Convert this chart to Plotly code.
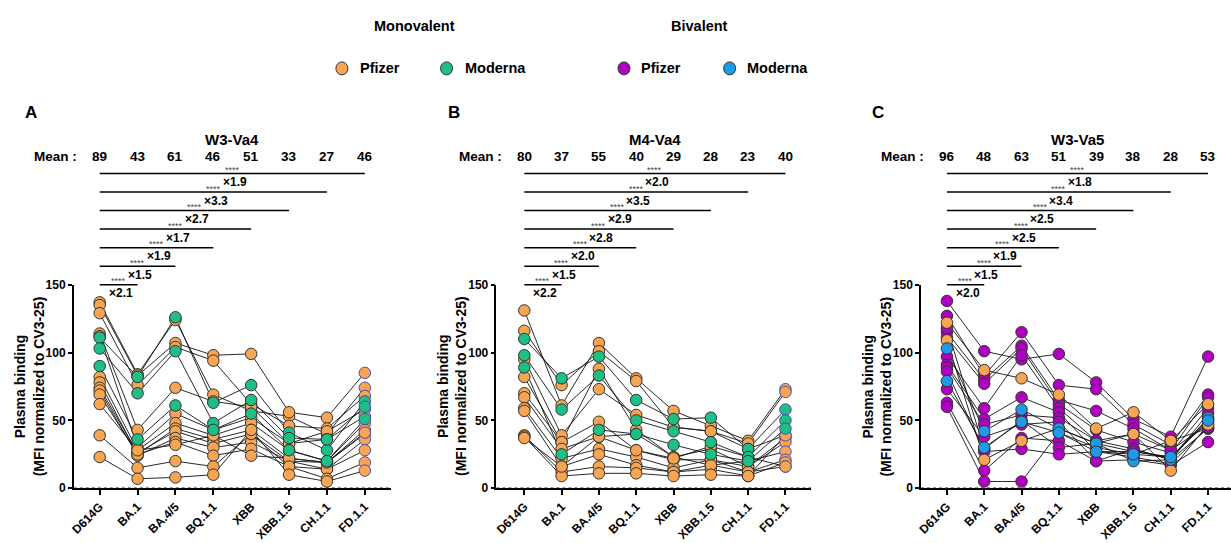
import plotly.graph_objects as go

W, H = 1231, 543

variants = ["D614G", "BA.1", "BA.4/5", "BQ.1.1", "XBB", "XBB.1.5", "CH.1.1", "FD.1.1"]

titles = ["W3-Va4", "M4-Va4", "W3-Va5"]
letters = ["A", "B", "C"]

means_A = [89, 43, 61, 46, 51, 33, 27, 46]
means_B = [80, 37, 55, 40, 29, 28, 23, 40]
means_C = [96, 48, 63, 51, 39, 38, 28, 53]

# fold change vs D614G, for BA.1 ... FD.1.1
folds_A = ["2.1", "1.5", "1.9", "1.7", "2.7", "3.3", "1.9"]
folds_B = ["2.2", "1.5", "2.0", "2.8", "2.9", "3.5", "2.0"]
folds_C = ["2.0", "1.5", "1.9", "2.5", "2.5", "3.4", "1.8"]
signif = ["****"] * 7

# per-donor binding values (D614G ... FD.1.1)
groups_A = ["mono_pfizer"] * 13 + ["mono_moderna"] * 3
values_A = [
    [137, 84, 124, 69, 57, 53, 40, 74],
    [135, 83, 107, 98, 99, 56, 52, 85],
    [129, 76, 104, 94, 62, 46, 44, 68],
    [114, 43, 74, 64, 60, 33, 42, 58],
    [112, 30, 55, 43, 52, 33, 36, 53],
    [82, 28, 48, 39, 48, 28, 20, 48],
    [78, 25, 44, 36, 43, 22, 19, 43],
    [74, 26, 42, 33, 40, 20, 19, 40],
    [72, 24, 37, 30, 34, 20, 14, 36],
    [69, 25, 34, 24, 29, 16, 14, 28],
    [62, 28, 32, 39, 24, 22, 19, 41],
    [39, 15, 20, 16, 40, 16, 7, 19],
    [23, 7, 8, 10, 43, 10, 5, 13],
    [111, 82, 126, 63, 76, 41, 28, 64],
    [103, 70, 101, 48, 65, 37, 36, 60],
    [90, 36, 61, 43, 55, 28, 20, 51],
]

groups_B = ["mono_pfizer"] * 11 + ["mono_moderna"] * 3
values_B = [
    [131, 61, 107, 81, 57, 46, 35, 73],
    [116, 76, 101, 79, 45, 42, 33, 71],
    [95, 39, 73, 54, 45, 42, 29, 39],
    [82, 34, 88, 43, 23, 29, 16, 37],
    [70, 34, 49, 28, 21, 21, 16, 34],
    [67, 29, 38, 40, 23, 17, 20, 27],
    [59, 22, 29, 23, 15, 21, 12, 21],
    [57, 16, 25, 17, 12, 14, 9, 19],
    [39, 12, 16, 15, 12, 17, 12, 16],
    [38, 9, 11, 11, 9, 10, 9, 39],
    [37, 16, 38, 28, 22, 31, 23, 16],
    [110, 81, 97, 65, 51, 52, 29, 58],
    [98, 58, 83, 50, 42, 34, 23, 50],
    [89, 25, 43, 40, 32, 25, 20, 44],
]

groups_C = ["bi_pfizer"] * 12 + ["mono_pfizer"] * 2 + ["bi_moderna"] * 2
values_C = [
    [138, 101, 95, 99, 78, 51, 38, 97],
    [127, 83, 115, 76, 73, 47, 32, 69],
    [115, 80, 105, 65, 57, 44, 28, 67],
    [111, 77, 103, 62, 43, 34, 26, 59],
    [97, 59, 98, 59, 35, 29, 21, 55],
    [91, 51, 67, 56, 27, 27, 23, 51],
    [89, 47, 54, 52, 35, 40, 28, 47],
    [73, 38, 47, 49, 20, 29, 21, 44],
    [63, 13, 37, 35, 20, 21, 17, 34],
    [60, 5, 5, 41, 30, 25, 35, 44],
    [118, 29, 50, 30, 33, 27, 23, 49],
    [86, 27, 29, 25, 27, 23, 18, 45],
    [122, 87, 81, 69, 44, 56, 35, 62],
    [109, 21, 35, 44, 33, 40, 13, 47],
    [103, 42, 58, 44, 33, 20, 21, 52],
    [79, 30, 49, 41, 27, 25, 23, 50],
]

colors = {
    "mono_pfizer": "#F7A553",
    "mono_moderna": "#1DBF85",
    "bi_pfizer": "#B000C2",
    "bi_moderna": "#1E9BE8",
}
draw_order = ["bi_pfizer", "mono_pfizer", "mono_moderna", "bi_moderna"]

FONT = "Liberation Sans, Arial, sans-serif"


def py(ypix):
    return 1 - ypix / H


Y0, Y150 = 494, 285

# panel geometry (pixels): first category, spacing, axis left, axis right
geo = [
    (96, 38.0, 70, 388),
    (522, 37.43, 494, 810),
    (946, 37.43, 920, 1231),
]

panels = [
    (values_A, groups_A, means_A, folds_A, True),
    (values_B, groups_B, means_B, folds_B, True),
    (values_C, groups_C, means_C, folds_C, False),
]

fig = go.Figure()
annotations = []
shapes = []


def ann(**kw):
    d = dict(showarrow=False, xanchor="center", yanchor="middle")
    d.update(kw)
    annotations.append(d)


for i, ((vals, grps, means, folds, fd_edge), (p0, s, L, R)) in enumerate(zip(panels, geo)):
    xa = "x" if i == 0 else f"x{i+1}"
    ya = "y" if i == 0 else f"y{i+1}"
    xkey = "xaxis" if i == 0 else f"xaxis{i+1}"
    ykey = "yaxis" if i == 0 else f"yaxis{i+1}"

    # connecting lines
    for v in vals:
        fig.add_trace(go.Scatter(
            x=variants, y=v, mode="lines", xaxis=xa, yaxis=ya,
            line=dict(color="#111111", width=0.9), showlegend=False,
            hoverinfo="skip", cliponaxis=False))
    # markers
    edge = ["#333333"] * 7 + (["#4B4BA8"] if fd_edge else ["#333333"])
    for g in draw_order:
        for v, gg in zip(vals, grps):
            if gg != g:
                continue
            fig.add_trace(go.Scatter(
                x=variants, y=v, mode="markers", xaxis=xa, yaxis=ya,
                marker=dict(size=11.5, color=colors[g], line=dict(color=edge, width=1)),
                showlegend=False, cliponaxis=False))

    rng = [(L - p0) / s, (R - p0) / s]
    fig.update_layout(**{
        xkey: dict(domain=[L / W, R / W], range=rng, type="category",
                   showline=True, linecolor="black", linewidth=1.5,
                   ticks="outside", ticklen=5, tickwidth=1.5, tickcolor="black",
                   tickangle=-45, tickfont=dict(family=FONT, size=12, color="black", weight="bold"),
                   showgrid=False, zeroline=False, anchor=ya, fixedrange=True),
        ykey: dict(domain=[py(Y0), py(Y150)], range=[0, 150], tickvals=[0, 50, 100, 150],
                   showline=True, linecolor="black", linewidth=1.5,
                   ticks="outside", ticklen=4, tickwidth=1.5, tickcolor="black",
                   tickfont=dict(family=FONT, size=12, color="black", weight="bold"),
                   showgrid=False, zeroline=False, anchor=xa, fixedrange=True),
    })

    # dotted baseline
    shapes.append(dict(type="line", xref=xa, yref=ya, x0=rng[0], x1=rng[1], y0=0, y1=0,
                       line=dict(color="#222222", width=1.5, dash="dot")))

    # significance bars
    for k in range(1, 8):
        yb = Y150 - 19 * (k - 1)
        shapes.append(dict(type="line", xref=xa, yref="paper", x0=0, x1=k,
                           y0=py(yb), y1=py(yb), line=dict(color="black", width=1.5)))
        ann(xref=xa, yref="paper", x=k / 2, y=py(yb - 3.5), text=signif[k - 1],
            font=dict(family=FONT, size=9, color="#444444"))
        ann(xref=xa, yref="paper", x=k / 2 + 0.06, y=py(yb + 9),
            text="<b>×" + folds[k - 1] + "</b>",
            font=dict(family=FONT, size=12, color="black"))

    # mean row
    ann(xref=xa, yref="paper", x=-0.55, y=py(153), xanchor="right",
        text="<b>Mean :</b>", font=dict(family=FONT, size=13.5, color="black"))
    for k, m in enumerate(means):
        ann(xref=xa, yref="paper", x=k, y=py(153), text=f"<b>{m}</b>",
            font=dict(family=FONT, size=13.5, color="black"))
    # panel title
    ann(xref=xa, yref="paper", x=3.5, y=py(136), text=f"<b>{titles[i]}</b>",
        font=dict(family=FONT, size=15, color="black"))
    # panel letter
    ann(xref="paper", yref="paper", x=(L - 43) / W, y=py(108), text=f"<b>{letters[i]}</b>",
        font=dict(family=FONT, size=17, color="black"))
    # y title
    ann(xref="paper", yref="paper", x=(L - 44) / W, y=py((Y0 + Y150) / 2),
        text="<b>Plasma binding</b><br><b>(MFI normalized to CV3-25)</b>",
        textangle=-90, font=dict(family=FONT, size=14, color="black"))

# legend
ann(xref="paper", yref="paper", x=412 / W, y=py(20), text="<b>Monovalent</b>",
    font=dict(family=FONT, size=14.5, color="black"))
ann(xref="paper", yref="paper", x=698 / W, y=py(20), text="<b>Bivalent</b>",
    font=dict(family=FONT, size=14.5, color="black"))
leg = [(339, 355, "Pfizer", "mono_pfizer"), (444, 460, "Moderna", "mono_moderna"),
       (622, 637, "Pfizer", "bi_pfizer"), (728, 743, "Moderna", "bi_moderna")]
for mx, tx, label, g in leg:
    shapes.append(dict(type="circle", xref="paper", yref="paper", xsizemode="pixel", ysizemode="pixel",
                       xanchor=mx / W, yanchor=py(63), x0=-6, x1=6, y0=-6.5, y1=6.5,
                       fillcolor=colors[g], line=dict(color="#333333", width=1)))
    ann(xref="paper", yref="paper", x=tx / W, y=py(63), xanchor="left",
        text=f"<b>{label}</b>", font=dict(family=FONT, size=14.5, color="black"))

fig.update_layout(
    width=W, height=H, margin=dict(l=0, r=0, t=0, b=0),
    paper_bgcolor="white", plot_bgcolor="white",
    showlegend=False, annotations=annotations, shapes=shapes,
)

post = (
    "document.documentElement.style.margin='0';"
    "document.documentElement.style.overflow='hidden';"
    "document.body.style.margin='0';"
    "document.body.style.overflow='hidden';"
    "document.body.style.height='543px';"
    "var gd=document.getElementById('{plot_id}');"
    "gd.style.position='fixed';gd.style.top='0px';gd.style.left='0px';"
)
fig.write_html("out.html", config={"displayModeBar": False}, post_script=post)
